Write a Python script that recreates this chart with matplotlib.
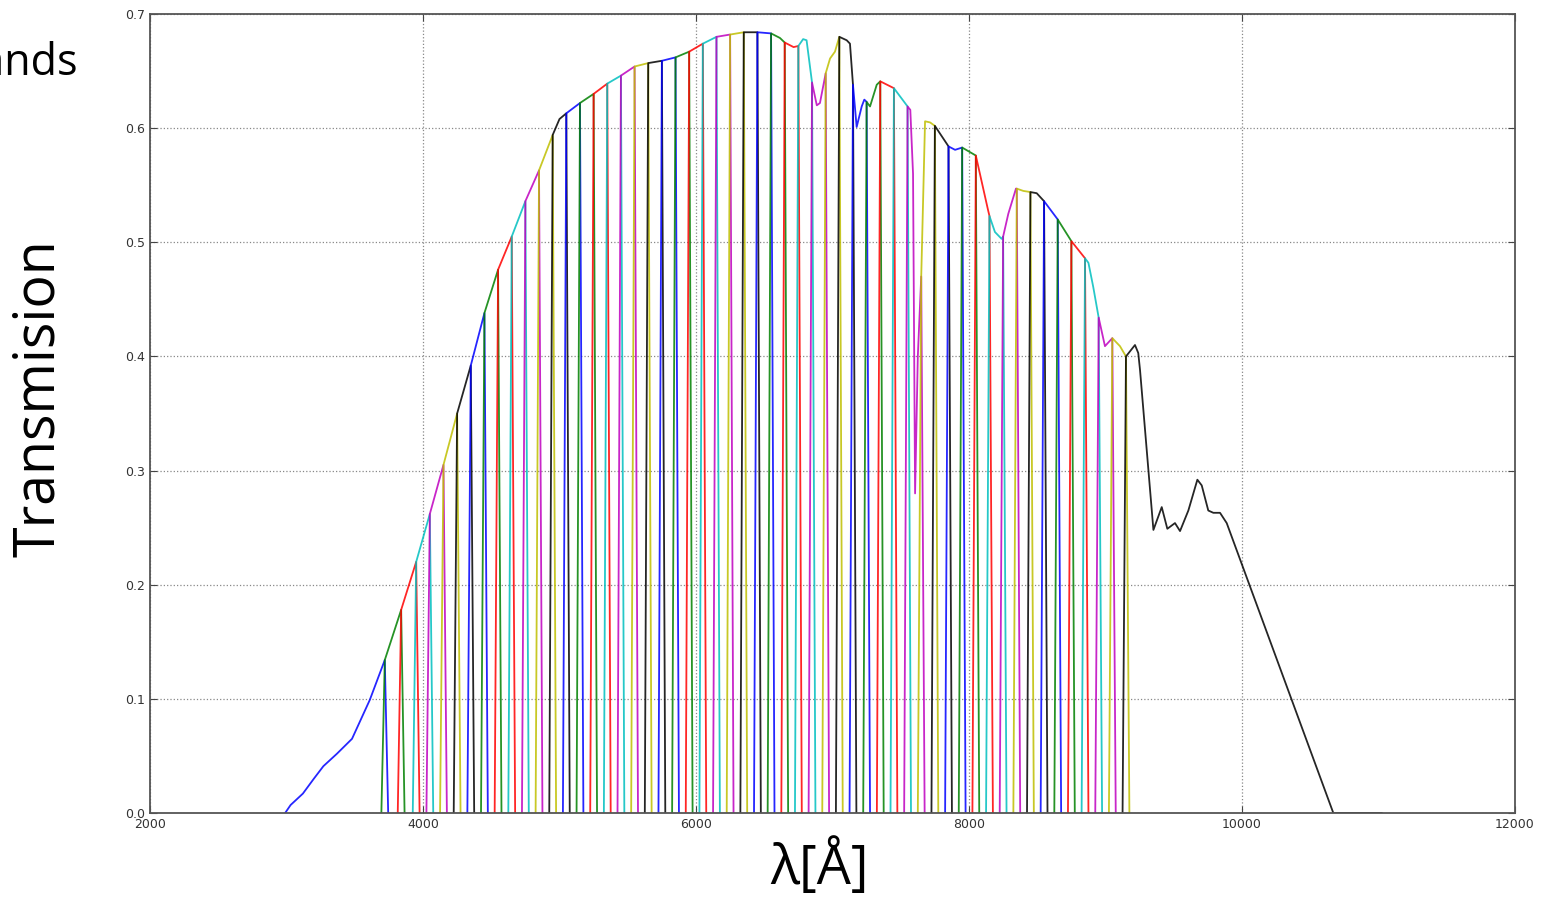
import numpy as np
import matplotlib
matplotlib.use("Agg")
import matplotlib.pyplot as plt
from cycler import cycler

# system throughput curve (wavelength in Angstrom, transmission)
wave = [2990, 3030, 3120, 3200, 3270, 3370, 3480, 3610, 3720, 3840,
        3950, 4050, 4150, 4250, 4350, 4450, 4550, 4650, 4750, 4850,
        4950, 5000, 5050, 5150, 5250, 5350, 5450, 5550, 5650, 5750,
        5850, 5950, 6050, 6150, 6250, 6350, 6450, 6550, 6615, 6650,
        6715, 6750, 6785, 6810, 6850, 6885, 6908, 6950, 6982, 7018,
        7050, 7104, 7128, 7150, 7177, 7214, 7233, 7250, 7275, 7324,
        7350, 7450, 7550, 7570, 7590, 7605, 7625, 7650, 7678, 7715,
        7750, 7850, 7898, 7950, 8050, 8140, 8150, 8190, 8239, 8250,
        8288, 8344, 8350, 8398, 8450, 8496, 8550, 8650, 8750, 8850,
        8875, 8910, 8947, 8950, 8996, 9050, 9106, 9150, 9216, 9240,
        9253, 9351, 9412, 9453, 9509, 9546, 9607, 9673, 9705, 9753,
        9790, 9839, 9888, 10669, 11023]
trans = [0.000, 0.007, 0.017, 0.030, 0.041, 0.052, 0.065, 0.099, 0.134, 0.178,
         0.220, 0.262, 0.305, 0.350, 0.392, 0.438, 0.476, 0.505, 0.536, 0.563,
         0.594, 0.608, 0.613, 0.622, 0.630, 0.639, 0.646, 0.654, 0.657, 0.659,
         0.662, 0.667, 0.674, 0.680, 0.682, 0.684, 0.684, 0.683, 0.679, 0.675,
         0.671, 0.672, 0.678, 0.677, 0.640, 0.620, 0.622, 0.648, 0.661, 0.667,
         0.680, 0.677, 0.674, 0.638, 0.601, 0.619, 0.625, 0.623, 0.619, 0.638,
         0.641, 0.635, 0.619, 0.616, 0.560, 0.280, 0.400, 0.470, 0.606, 0.605,
         0.602, 0.584, 0.581, 0.583, 0.576, 0.528, 0.523, 0.509, 0.503, 0.505,
         0.525, 0.547, 0.547, 0.545, 0.544, 0.543, 0.536, 0.520, 0.501, 0.486,
         0.482, 0.461, 0.436, 0.434, 0.409, 0.416, 0.409, 0.400, 0.410, 0.403,
         0.388, 0.248, 0.268, 0.249, 0.254, 0.247, 0.265, 0.292, 0.287, 0.265,
         0.263, 0.263, 0.254, 0.000, 0.000]

# narrow band limits (54 filters)
band_edges = [3720, 3840, 3950, 4050, 4150, 4250, 4350, 4450, 4550, 4650,
              4750, 4850, 4950, 5050, 5150, 5250, 5350, 5450, 5550, 5650,
              5750, 5850, 5950, 6050, 6150, 6250, 6350, 6450, 6550, 6650,
              6750, 6850, 6950, 7050, 7150, 7250, 7350, 7450, 7550, 7650,
              7750, 7850, 7950, 8050, 8150, 8250, 8350, 8450, 8550, 8650,
              8750, 8850, 8950, 9050, 9150]

wave = np.array(wave, dtype=float)
trans = np.array(trans)
slope = 25.0  # width of the filter wings

plt.rcParams["axes.prop_cycle"] = cycler(color=list("bgrcmyk"))

fig = plt.figure(figsize=(15.49, 8.99), dpi=100)
ax = fig.add_axes([150 / 1549, 86 / 899, 1365 / 1549, 799 / 899])

# blue broad band
m = wave <= band_edges[0]
ax.plot(np.r_[wave[m], band_edges[0] + slope], np.r_[trans[m], 0], lw=1.3, alpha=0.85)

# narrow bands
for lo, hi in zip(band_edges[:-1], band_edges[1:]):
    m = (wave >= lo) & (wave <= hi)
    ax.plot(np.r_[lo - slope, wave[m], hi + slope], np.r_[0, trans[m], 0], lw=1.3, alpha=0.85)

# red broad band
m = wave >= band_edges[-1]
ax.plot(np.r_[band_edges[-1] - slope, wave[m]], np.r_[0, trans[m]], lw=1.3, alpha=0.85)

ax.set_xlim(2000, 12000)
ax.set_ylim(0, 0.7)
ax.set_xticks([2000, 4000, 6000, 8000, 10000, 12000])
ax.set_yticks([0.0, 0.1, 0.2, 0.3, 0.4, 0.5, 0.6, 0.7])
ax.grid(True, ls=":", color="#888888", lw=0.9)
ax.tick_params(direction="in", length=5, top=True, right=True, labelsize=9,
               colors="#444444", labelcolor="#333333")
for s in ax.spines.values():
    s.set_color("#555555")
    s.set_linewidth(1.3)

fig.text(40 / 1549, 1 - 398 / 899, "Transmision", rotation=90, ha="center", va="center",
         fontsize=40, family="Open Sans")
fig.text(820 / 1549, 1 - 868 / 899, "λ[Å]", ha="center", va="center",
         fontsize=39, family="Open Sans")
fig.text(78 / 1549, 1 - 75 / 899, "bands", ha="right", va="baseline",
         fontsize=31, family="Open Sans")

fig.savefig("out.png", dpi=100, facecolor="white")
